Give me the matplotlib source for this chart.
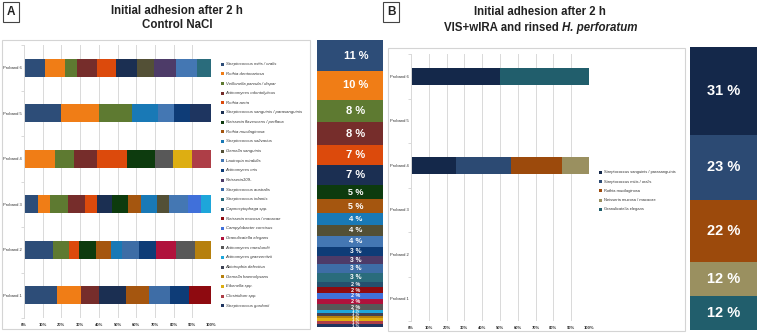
import matplotlib
matplotlib.use("Agg")
import matplotlib.pyplot as plt
from matplotlib.patches import Rectangle

plt.rcParams["font.family"] = ["Liberation Sans", "DejaVu Sans"]

W, H = 758, 333
fig = plt.figure(figsize=(W / 100, H / 100), dpi=100)
fig.patch.set_facecolor("white")

def rect(l, t, r, b):
    return [l / W, 1 - b / H, (r - l) / W, (b - t) / H]

# ---------------- data ----------------
species = [
    "Streptococcus mitis / oralis", "Rothia dentocariosa", "Veillonella parvula / dispar",
    "Actinomyces odontolyticus", "Rothia aeria", "Streptococcus sanguinis / parasanguinis",
    "Neisseria flavescens / perflava", "Rothia mucilaginosa", "Streptococcus salivarius",
    "Gemella sanguinis", "Lautropia mirabilis", "Actinomyces oris", "Neisseria109-",
    "Streptococcus australis", "Streptococcus infantis", "Capnocytophaga spp.",
    "Neisseria mucosa / macacae", "Campylobacter concisus", "Granulicatella elegans",
    "Actinomyces naeslundii", "Actinomyces graevenitzii", "Abiotrophia defectiva",
    "Gemella haemolysans", "Eikenella spp.", "Clostridium spp.", "Streptococcus gordonii",
]
species_colors = [
    "#2D4D78", "#F07D16", "#5E7A31", "#762D2B", "#DC4A0C", "#1B2F52",
    "#0D3B0E", "#A5560F", "#1979B6", "#535036", "#4477B3", "#0E3C77", "#4D3B68",
    "#3E6DA6", "#2A6C7C", "#24506E", "#8E0A10", "#4070DA", "#B0123C",
    "#585858", "#1EA6DA", "#3F4355", "#B6800E", "#DDAE12", "#AE3E47", "#1E3560",
]
# overall share (column A), in legend order
control_share = [11, 10, 8, 8, 7, 7, 5, 5, 4, 4, 4, 3, 3, 3, 3, 2, 2, 2, 2, 2, 1, 1, 1, 1, 1, 1]

probands = ["Proband 1", "Proband 2", "Proband 3", "Proband 4", "Proband 5", "Proband 6"]

# control NaCl: species index and share per proband
p1_sp = [0, 1, 3, 5, 7, 13, 11, 16]
p1_val = [17.4, 13.0, 9.9, 14.3, 12.3, 11.3, 9.8, 12.0]
p2_sp = [0, 2, 4, 6, 7, 8, 13, 11, 18, 19, 22]
p2_val = [15.6, 8.2, 5.7, 9.0, 7.8, 6.3, 8.9, 9.3, 10.4, 10.0, 8.8]
p3_sp = [0, 1, 2, 3, 4, 5, 6, 7, 8, 9, 10, 17, 20]
p3_val = [7.5, 6.3, 9.6, 9.0, 6.8, 8.0, 8.3, 7.3, 8.1, 6.7, 10.2, 6.7, 5.5]
p4_sp = [1, 2, 3, 4, 6, 19, 23, 24]
p4_val = [16.5, 10.5, 11.8, 16.5, 14.5, 10.0, 10.2, 10.0]
p5_sp = [0, 1, 2, 8, 10, 11, 25]
p5_val = [19.9, 20.4, 17.3, 13.8, 8.7, 8.8, 11.1]
p6_sp = [0, 1, 2, 3, 4, 5, 9, 12, 10, 14]
p6_val = [11.1, 10.7, 6.6, 10.8, 10.0, 11.2, 9.0, 12.0, 11.1, 7.5]
control_sp = [p1_sp, p2_sp, p3_sp, p4_sp, p5_sp, p6_sp]
control_val = [p1_val, p2_val, p3_val, p4_val, p5_val, p6_val]

# VIS+wIRA and rinsed H. perforatum
b_species = ["Streptococcus sanguinis / parasanguinis", "Streptococcus mitis / oralis",
             "Rothia mucilaginosa", "Neisseria mucosa / macacae", "Granulicatella elegans"]
b_colors = ["#14284A", "#2C4A73", "#9C4A0C", "#9A9060", "#215E6C"]
b_share = [31, 23, 22, 12, 12]
b_p4_sp = [0, 1, 2, 3]
b_p4_val = [25.2, 30.7, 28.8, 15.3]
b_p6_sp = [0, 4]
b_p6_val = [50.1, 49.9]
treat_sp = {4: b_p4_sp, 6: b_p6_sp}
treat_val = {4: b_p4_val, 6: b_p6_val}

xticks = list(range(0, 101, 10))
xticklabels = [f"{t}%" for t in xticks]

GRID = "#D9D9D9"
FRAME = "#D4D4D4"
TXT = "#222222"

# ---------------- frames ----------------
fig.add_artist(Rectangle((2 / W, 1 - 329 / H), (310 - 2) / W, (329 - 40) / H,
                         transform=fig.transFigure, fill=False, ec=FRAME, lw=0.8))
fig.add_artist(Rectangle((388 / W, 1 - 331 / H), (685 - 388) / W, (331 - 48) / H,
                         transform=fig.transFigure, fill=False, ec=FRAME, lw=0.8))

def style_bar_axes(ax):
    ax.set_xlim(0, 100)
    ax.set_ylim(0.5, 6.5)
    ax.set_xticks(xticks)
    ax.set_xticklabels(xticklabels, fontsize=3.0, fontweight="bold", color="#333333")
    ax.set_yticks(range(1, 7))
    ax.set_yticklabels(probands, fontsize=3.0, color="#333333")
    ax.xaxis.grid(True, color=GRID, lw=0.7)
    ax.set_axisbelow(True)
    for s in ["top", "right", "bottom"]:
        ax.spines[s].set_visible(False)
    ax.spines["left"].set_color(GRID)
    ax.spines["left"].set_linewidth(0.7)
    ax.tick_params(axis="x", length=0, pad=3.5)
    ax.tick_params(axis="y", length=0, pad=1.5)
    ax.set_yticks([i + 0.5 for i in range(0, 7)], minor=True)
    ax.tick_params(axis="y", which="minor", length=2, color=GRID, width=0.7)

# ---------------- panel A ----------------
axA = fig.add_axes(rect(24, 45, 211, 318))
for i, (sp, vals) in enumerate(zip(control_sp, control_val)):
    left = 0
    for s, v in zip(sp, vals):
        axA.barh(i + 1, v, left=left, height=0.39, color=species_colors[s], lw=0)
        left += v
style_bar_axes(axA)

# legend A
y0, dy = 64.2, (305.7 - 64.2) / 25
for k, name in enumerate(species):
    y = y0 + k * dy
    fig.add_artist(Rectangle(((222 - 1.5) / W, 1 - (y + 1.5) / H), 3.0 / W, 3.0 / H,
                             transform=fig.transFigure, color=species_colors[k], lw=0))
    fig.text(225.5 / W, 1 - y / H, name, fontsize=3.1, style="italic",
             ha="left", va="center", color="#333333")

# column A
axCA = fig.add_axes(rect(317, 40, 383, 327))
bottom = sum(control_share)
for k, v in enumerate(control_share):
    bottom -= v
    axCA.bar(0, v, bottom=bottom, width=1, color=species_colors[k], lw=0)
    fs = min(8.0, 2.2 + 0.85 * v)
    axCA.text(0.09, bottom + v / 2, f"{v} %", ha="center", va="center", color="white",
              fontsize=fs, fontweight="bold")
axCA.set_xlim(-0.5, 0.5)
axCA.set_ylim(0, sum(control_share))
axCA.axis("off")

# ---------------- panel B ----------------
axB = fig.add_axes(rect(411, 54, 589, 321))
for p in treat_sp:
    left = 0
    for s, v in zip(treat_sp[p], treat_val[p]):
        axB.barh(p, v, left=left, height=0.38, color=b_colors[s], lw=0)
        left += v
style_bar_axes(axB)

y0b, dyb = 172.3, 9.25
for k, name in enumerate(b_species):
    y = y0b + k * dyb
    fig.add_artist(Rectangle(((600 - 1.5) / W, 1 - (y + 1.5) / H), 3.0 / W, 3.0 / H,
                             transform=fig.transFigure, color=b_colors[k], lw=0))
    fig.text(603.5 / W, 1 - y / H, name, fontsize=2.9,
             ha="left", va="center", color="#333333")

axCB = fig.add_axes(rect(690, 47, 757, 330))
bottom = sum(b_share)
for k, v in enumerate(b_share):
    bottom -= v
    axCB.bar(0, v, bottom=bottom, width=1, color=b_colors[k], lw=0)
    axCB.text(0, bottom + v / 2, f"{v} %", ha="center", va="center", color="white",
              fontsize=10.5, fontweight="bold")
axCB.set_xlim(-0.5, 0.5)
axCB.set_ylim(0, sum(b_share))
axCB.axis("off")

# ---------------- titles ----------------
TFS = 8.3
fig.text(177 / W, 1 - 11 / H, "Initial adhesion after 2 h", ha="center", va="center",
         fontsize=TFS, fontweight="bold", color=TXT)
fig.text(177 / W, 1 - 25 / H, "Control NaCl", ha="center", va="center",
         fontsize=TFS, fontweight="bold", color=TXT)
fig.text(540 / W, 1 - 12 / H, "Initial adhesion after 2 h", ha="center", va="center",
         fontsize=TFS, fontweight="bold", color=TXT)

# second line of title B with italic species name
renderer = fig.canvas.get_renderer()
t1 = fig.text(0, 1 - 28 / H, "VIS+wIRA and rinsed ", ha="left", va="center",
              fontsize=TFS, fontweight="bold", color=TXT)
t2 = fig.text(0, 1 - 28 / H, "H. perforatum", ha="left", va="center",
              fontsize=TFS, fontweight="bold", style="italic", color=TXT)
w1 = t1.get_window_extent(renderer).width
w2 = t2.get_window_extent(renderer).width
xs = 541 - (w1 + w2) / 2
t1.set_x(xs / W)
t2.set_x((xs + w1) / W)

for lbl, cx in [("A", 11), ("B", 391)]:
    fig.text(cx / W, 1 - 12 / H, lbl, ha="center", va="center", fontsize=8.5,
             fontweight="bold", color=TXT,
             bbox=dict(boxstyle="square,pad=0.3", fc="white", ec="#444444", lw=0.8))

fig.savefig("out.png", dpi=100, facecolor="white")
